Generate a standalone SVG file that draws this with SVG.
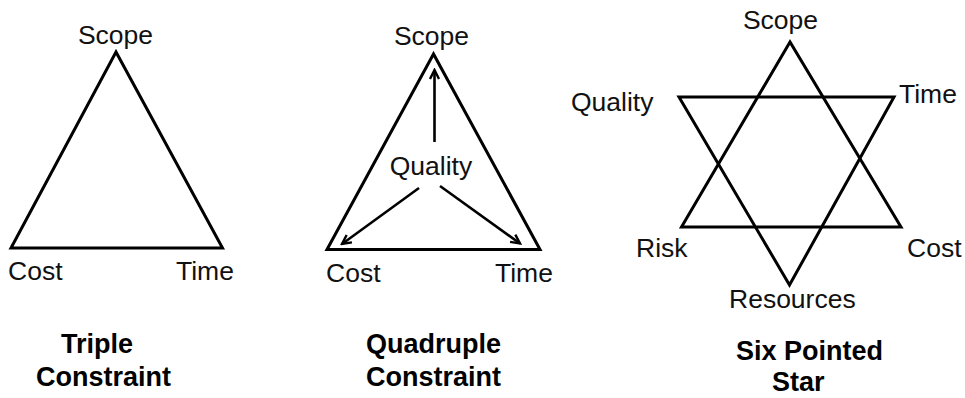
<svg xmlns="http://www.w3.org/2000/svg" width="965" height="398" viewBox="0 0 965 398">
  <style>
    .shape { fill: none; stroke: #000; stroke-width: 3; stroke-linejoin: miter; }
    .link { fill: none; stroke: #000; stroke-width: 2.6; }
    .lbl { font-family: "Liberation Sans", Arial, sans-serif; font-size: 26.5px; fill: #111; }
    .ttl { font-family: "Liberation Sans", Arial, sans-serif; font-size: 27px; font-weight: bold; fill: #000; }
    .mid { text-anchor: middle; }
  </style>
  <defs>
    <marker id="openArrow" markerWidth="12" markerHeight="12" refX="10" refY="6" orient="auto" markerUnits="userSpaceOnUse">
      <path d="M1,1.5 L10,6 L1,10.5" fill="none" stroke="#000" stroke-width="2.4"/>
    </marker>
  </defs>
  <rect width="965" height="398" fill="#fff"/>

  <!-- Triple constraint -->
  <g id="triple">
    <polygon class="shape" points="116,52 11,248 222.5,248"/>
    <text class="lbl mid" x="115.5" y="44">Scope</text>
    <text class="lbl" x="8" y="280">Cost</text>
    <text class="lbl" x="176" y="280">Time</text>
    <text class="ttl" x="61" y="353">Triple</text>
    <text class="ttl" x="36" y="386">Constraint</text>
  </g>

  <!-- Quadruple constraint -->
  <g id="quadruple">
    <polygon class="shape" points="433.5,54 327,249.5 540,249.5"/>
    <text class="lbl mid" x="431.5" y="45">Scope</text>
    <text class="lbl mid" x="431" y="175">Quality</text>
    <text class="lbl" x="326" y="282">Cost</text>
    <text class="lbl" x="495" y="282">Time</text>
    <text class="ttl" x="366" y="353">Quadruple</text>
    <text class="ttl" x="366" y="386">Constraint</text>
  </g>

  <!-- Quality arrows -->
  <g id="connectors">
    <line class="link" x1="434.5" y1="142" x2="434.5" y2="70" marker-end="url(#openArrow)"/>
    <line class="link" x1="419" y1="188" x2="342" y2="244" marker-end="url(#openArrow)"/>
    <line class="link" x1="440" y1="186" x2="520" y2="243.5" marker-end="url(#openArrow)"/>
  </g>

  <!-- Six pointed star -->
  <g id="star">
    <polygon class="shape" points="790,42 681.5,227 901,227"/>
    <polygon class="shape" points="679,97 894,97 789.5,285"/>
    <text class="lbl mid" x="780.5" y="29">Scope</text>
    <text class="lbl" x="571" y="111">Quality</text>
    <text class="lbl" x="899" y="103">Time</text>
    <text class="lbl" x="636" y="257">Risk</text>
    <text class="lbl" x="907" y="257">Cost</text>
    <text class="lbl" x="729" y="308">Resources</text>
    <text class="ttl" x="736" y="360">Six Pointed</text>
    <text class="ttl" x="772" y="391">Star</text>
  </g>
</svg>
